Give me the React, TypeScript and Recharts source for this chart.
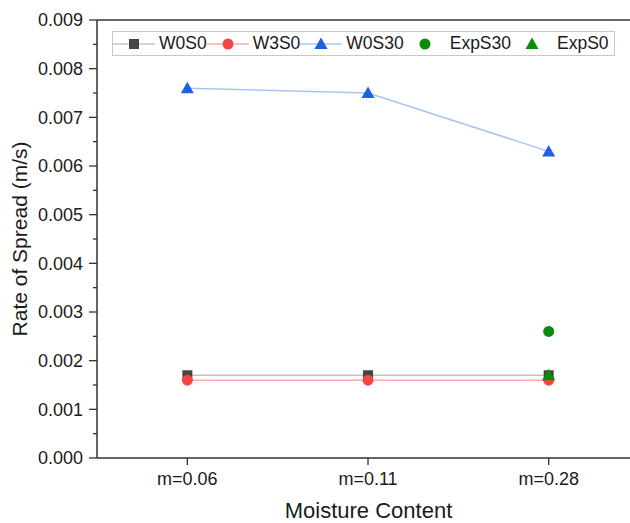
import { ComposedChart, Line, XAxis, YAxis, Legend, ReferenceLine } from 'recharts'

const categories = ['m=0.06', 'm=0.11', 'm=0.28']
const w0s0 = [0.0017, 0.0017, 0.0017]
const w3s0 = [0.0016, 0.0016, 0.0016]
const w0s30 = [0.0076, 0.0075, 0.0063]
const expS30 = [null, null, 0.0026]
const expS0 = [null, null, 0.0017]

const yMajorTicks = [0, 0.001, 0.002, 0.003, 0.004, 0.005, 0.006, 0.007, 0.008, 0.009]
const yTicks = yMajorTicks.flatMap((t, i) => (i < yMajorTicks.length - 1 ? [t, t + 0.0005] : [t]))

const data = categories.map((c, i) => ({
  idx: i,
  cat: c,
  w0s0: w0s0[i],
  w3s0: w3s0[i],
  w0s30: w0s30[i],
  expS30: expS30[i],
  expS0: expS0[i],
}))

const FONT = '"Liberation Sans", Arial, sans-serif'

const series = [
  { key: 'w0s0', name: 'W0S0', marker: 'square', color: '#454545', line: '#c4c4c4' },
  { key: 'w3s0', name: 'W3S0', marker: 'circle', color: '#f54545', line: '#ffaaaa' },
  { key: 'w0s30', name: 'W0S30', marker: 'triangle', color: '#1c60e4', line: '#a8c5f2' },
  { key: 'expS30', name: 'ExpS30', marker: 'circle', color: '#0a8c0a', line: 'none' },
  { key: 'expS0', name: 'ExpS0', marker: 'triangle', color: '#0a8c0a', line: 'none' },
]

function Marker({ kind, cx, cy, color }: { kind: string; cx: number; cy: number; color: string }) {
  if (kind === 'square') return <rect x={cx - 5} y={cy - 5} width={10} height={10} fill={color} />
  if (kind === 'circle') return <circle cx={cx} cy={cy} r={5.5} fill={color} />
  return <polygon points={`${cx},${cy - 6.5} ${cx + 6.5},${cy + 5} ${cx - 6.5},${cy + 5}`} fill={color} />
}

const makeDot = (kind: string, color: string) => (props: any) => {
  const { cx, cy, value, index } = props
  if (value == null || cy == null || Number.isNaN(cy)) return <g key={index} />
  return <Marker key={index} kind={kind} cx={cx} cy={cy} color={color} />
}

const YTick = (props: any) => {
  const { x, y, payload } = props
  const major = Math.round(payload.value * 10000) % 10 === 0
  return (
    <g>
      <line x1={x} x2={x - (major ? 8 : 4)} y1={y} y2={y} stroke="#333" strokeWidth={1.3} />
      {major && (
        <text x={x - 14} y={y} dy="0.355em" textAnchor="end" fontSize={18} fill="#1a1a1a" fontFamily={FONT}>
          {payload.value.toFixed(3)}
        </text>
      )}
    </g>
  )
}

const LegendBox = () => (
  <div
    style={{
      display: 'flex',
      alignItems: 'center',
      border: '1px solid #c8c8c8',
      background: '#fff',
      height: 23,
      width: 501,
      fontFamily: FONT,
      fontSize: 17.5,
      color: '#1a1a1a',
      whiteSpace: 'nowrap',
    }}
  >
    {series.map((s) => (
      <div key={s.key} style={{ display: 'flex', alignItems: 'center' }}>
        <svg width={42} height={20}>
          {s.line !== 'none' && <line x1={0} x2={42} y1={10} y2={10} stroke={s.line} strokeWidth={1.5} />}
          <Marker kind={s.marker} cx={21} cy={10} color={s.color} />
        </svg>
        <span style={{ marginLeft: 4 }}>{s.name}</span>
      </div>
    ))}
  </div>
)

export default function App() {
  return (
    <div style={{ position: 'absolute', left: 0, top: 0, width: 630, height: 523, background: '#fff' }}>
      <ComposedChart width={630} height={523} data={data} margin={{ top: 20, right: 0, left: 0, bottom: 0 }}>
        <XAxis
          type="number"
          dataKey="idx"
          domain={[-0.5, 2.45]}
          ticks={[0, 1, 2]}
          interval={0}
          allowDataOverflow
          tickFormatter={(v: number) => categories[v]}
          height={65}
          tickSize={7}
          tickMargin={7}
          axisLine={{ stroke: '#333', strokeWidth: 1.5 }}
          tickLine={{ stroke: '#333', strokeWidth: 1.3 }}
          tick={{ fontSize: 18, fill: '#1a1a1a', fontFamily: FONT }}
          label={{
            value: 'Moisture Content',
            position: 'insideBottom',
            offset: 5,
            dx: 5,
            style: { fontSize: 22, fill: '#1a1a1a', fontFamily: FONT, textAnchor: 'middle' },
          }}
        />
        <YAxis
          type="number"
          domain={[0, 0.009]}
          ticks={yTicks}
          interval={0}
          width={97}
          tickSize={0}
          tickMargin={0}
          tickLine={false}
          axisLine={{ stroke: '#333', strokeWidth: 1.5 }}
          tick={<YTick />}
          label={{
            value: 'Rate of Spread (m/s)',
            angle: -90,
            position: 'insideLeft',
            offset: 20,
            style: { fontSize: 21, fill: '#1a1a1a', fontFamily: FONT, textAnchor: 'middle' },
          }}
        />
        <ReferenceLine y={0.009} stroke="#333" strokeWidth={1.5} />
        <Legend
          layout="horizontal"
          verticalAlign="middle"
          align="center"
          content={<LegendBox />}
          wrapperStyle={{ position: 'absolute', left: 112, top: 31, width: 503, height: 25 }}
        />
        {series.map((s) => (
          <Line
            key={s.key}
            type="linear"
            dataKey={s.key}
            name={s.name}
            stroke={s.line}
            strokeWidth={1.5}
            dot={makeDot(s.marker, s.color)}
            activeDot={false}
            isAnimationActive={false}
            connectNulls={false}
          />
        ))}
      </ComposedChart>
    </div>
  )
}
